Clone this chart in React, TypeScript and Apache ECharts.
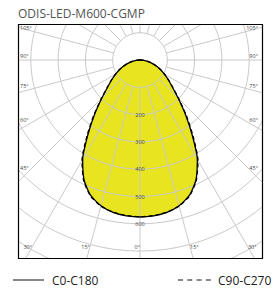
import React, { useEffect, useRef } from 'react';
import * as echarts from 'echarts';

// ---- data ----
const chartTitle = 'ODIS-LED-M600-CGMP';
const gammaAngles = [0, 5, 10, 15, 20, 25, 30, 35, 40, 45, 50, 55, 60, 65, 70, 75, 80, 85, 90,
  95, 100, 105, 110, 115, 120, 125, 130, 135, 140, 145, 150, 155, 160, 165, 170, 175, 180];
const c0c180 = [575, 573, 567, 553, 528, 485, 420, 332, 258, 198, 155, 127, 103, 82, 62, 44, 28, 14, 4,
  0, 0, 0, 0, 0, 0, 0, 0, 0, 0, 0, 0, 0, 0, 0, 0, 0, 0, 0];
const c90c270 = [574, 572, 566, 554, 530, 488, 425, 338, 263, 201, 157, 128, 104, 83, 63, 45, 29, 15, 5,
  0, 0, 0, 0, 0, 0, 0, 0, 0, 0, 0, 0, 0, 0, 0, 0, 0, 0, 0];
const radiusTickLabels = [200, 300, 400, 500, 600];
const sideAngleLabels = [105, 90, 75, 60, 45];
const bottomAngleLabels = [30, 15, 0];
const legendNames = ['C0-C180', 'C90-C270'];

// ---- layout ----
const CX = 140;
const CY = 60;
const PX_PER_CD = 0.273;
const R_MIN = 100;
const R_MAX = 900;
const FRAME = { l: 18, t: 24, r: 262, b: 258 };
const FILL = '#e8e420';
const GRID = '#cacaca';
const FONT = 'Open Sans';

function curvePoints(values: number[]) {
  const pts: number[][] = [];
  for (let i = gammaAngles.length - 1; i >= 0; i--) pts.push([values[i], gammaAngles[i]]);
  for (let i = 1; i < gammaAngles.length; i++) pts.push([values[i], 360 - gammaAngles[i]]);
  return pts;
}

function buildOption() {
  const rad = Math.PI / 180;
  const texts: any[] = [];
  const labelStyle = { fontSize: 5.5, fill: '#444', fontFamily: FONT };
  sideAngleLabels.forEach((a) => {
    let y = CY + (CX - 28) * Math.cos(a * rad) / Math.sin(a * rad) - 1.5;
    y = Math.max(y, FRAME.t + 6.5);
    texts.push({ type: 'text', z: 102, x: FRAME.l + 2, y, style: { ...labelStyle, text: a + '°', textAlign: 'left', textVerticalAlign: 'bottom' } });
    texts.push({ type: 'text', z: 102, x: FRAME.r - 4, y, style: { ...labelStyle, text: a + '°', textAlign: 'right', textVerticalAlign: 'bottom' } });
  });
  const by = 247;
  bottomAngleLabels.forEach((a) => {
    const dx = (by - CY) * Math.tan(a * rad);
    texts.push({ type: 'text', z: 102, x: CX - dx, y: by, style: { ...labelStyle, text: a + '°', textAlign: 'right', textVerticalAlign: 'middle' } });
    if (a !== 0) {
      texts.push({ type: 'text', z: 102, x: CX + dx, y: by, style: { ...labelStyle, text: a + '°', textAlign: 'left', textVerticalAlign: 'middle' } });
    }
  });

  const masks = [
    { x: 0, y: 0, width: 275, height: FRAME.t },
    { x: 0, y: FRAME.b, width: 275, height: 289 - FRAME.b },
    { x: 0, y: 0, width: FRAME.l, height: 289 },
    { x: FRAME.r, y: 0, width: 275 - FRAME.r, height: 289 },
  ].map((s) => ({ type: 'rect', z: 100, shape: s, style: { fill: '#fff' } }));

  const legendY = 280;
  const legend = [
    { type: 'line', z: 102, shape: { x1: 13, y1: legendY, x2: 44, y2: legendY }, style: { stroke: '#111', lineWidth: 1 } },
    { type: 'text', z: 102, x: 52, y: legendY, style: { text: legendNames[0], fontSize: 12, fill: '#222', fontFamily: FONT, textVerticalAlign: 'middle' } },
    { type: 'line', z: 102, shape: { x1: 178, y1: legendY, x2: 211, y2: legendY }, style: { stroke: '#111', lineWidth: 1, lineDash: [5, 4.3] } },
    { type: 'text', z: 102, x: 218, y: legendY, style: { text: legendNames[1], fontSize: 12, fill: '#222', fontFamily: FONT, textVerticalAlign: 'middle' } },
  ];

  const fillPts = curvePoints(c0c180);

  return {
    animation: false,
    polar: [
      { center: [CX, CY], radius: [0, R_MAX * PX_PER_CD] },
      { center: [CX, CY], radius: [R_MIN * PX_PER_CD, R_MAX * PX_PER_CD] },
    ],
    angleAxis: [
      {
        polarIndex: 0, type: 'value', min: 0, max: 360, startAngle: 270, clockwise: true,
        axisLine: { show: false }, axisTick: { show: false }, axisLabel: { show: false }, splitLine: { show: false },
      },
      {
        polarIndex: 1, type: 'value', min: 0, max: 360, interval: 15, startAngle: 270, clockwise: true, z: 3,
        axisLine: { show: false }, axisTick: { show: false }, axisLabel: { show: false },
        splitLine: { show: true, lineStyle: { color: GRID, width: 1 } },
      },
    ],
    radiusAxis: [
      {
        polarIndex: 0, type: 'value', min: 0, max: R_MAX,
        axisLine: { show: false }, axisTick: { show: false }, axisLabel: { show: false }, splitLine: { show: false },
      },
      {
        polarIndex: 1, type: 'value', min: R_MIN, max: R_MAX, interval: 100, z: 3,
        axisLine: { show: false }, axisTick: { show: false },
        splitLine: { show: true, lineStyle: { color: GRID, width: 1 } },
        axisLabel: {
          show: true, margin: 0, align: 'center', verticalAlign: 'middle',
          fontSize: 5.5, color: '#444', fontFamily: FONT, padding: [0, 0, 3, 0],
          formatter: (v: number) => (radiusTickLabels.indexOf(v) >= 0 ? String(v) : ''),
        },
      },
    ],
    series: [
      {
        type: 'custom', coordinateSystem: 'polar', polarIndex: 0, z: 1, silent: true,
        data: [[0, 0]],
        renderItem: (params: any, api: any) => {
          if (params.dataIndex !== 0) return null;
          const pts = fillPts.map((p) => api.coord(p));
          return { type: 'polygon', shape: { points: pts, smooth: 0.2 }, style: { fill: FILL, stroke: 'none' } };
        },
      },
      {
        name: legendNames[0], type: 'line', coordinateSystem: 'polar', polarIndex: 0, z: 5,
        data: curvePoints(c0c180), showSymbol: false, smooth: 0.2,
        lineStyle: { color: '#000', width: 1.3 },
      },
      {
        name: legendNames[1], type: 'line', coordinateSystem: 'polar', polarIndex: 0, z: 6,
        data: curvePoints(c90c270), showSymbol: false, smooth: 0.2,
        lineStyle: { color: '#000', width: 1.3, type: [4, 3] },
      },
    ],
    graphic: [
      ...masks,
      { type: 'rect', z: 101, shape: { x: FRAME.l + 0.5, y: FRAME.t + 0.5, width: FRAME.r - FRAME.l, height: FRAME.b - FRAME.t }, style: { fill: 'none', stroke: '#000', lineWidth: 1.2 } },
      { type: 'text', z: 102, x: 18, y: 13, style: { text: chartTitle, fontSize: 12, fill: '#555', fontFamily: FONT, textVerticalAlign: 'middle' } },
      ...texts,
      ...legend,
    ],
  };
}

export default function App() {
  const ref = useRef<HTMLDivElement>(null);
  useEffect(() => {
    document.body.style.margin = '0';
    const chart = echarts.init(ref.current!, null, { renderer: 'svg' });
    chart.setOption(buildOption() as any);
    return () => chart.dispose();
  }, []);
  return <div ref={ref} style={{ width: 275, height: 289 }} />;
}
